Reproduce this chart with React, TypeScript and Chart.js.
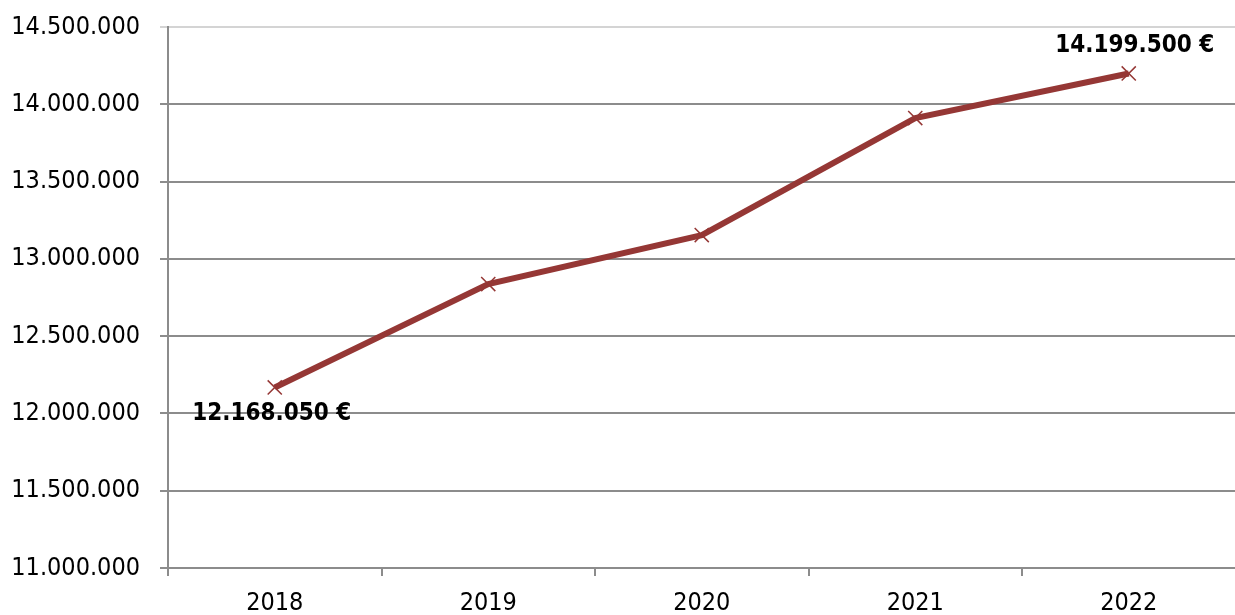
import React, { useEffect, useRef } from "react";
import { Chart, registerables } from "chart.js";

Chart.register(...registerables);

const years = ["2018", "2019", "2020", "2021", "2022"];
const totals = [12168050, 12837000, 13154000, 13911000, 14199500];
const labelledIndices = [0, 4];
const labelText = ["12.168.050 €", "", "", "", "14.199.500 €"];

const fmt = (v: number) =>
  Math.round(v)
    .toString()
    .replace(/\B(?=(\d{3})+(?!\d))/g, ".");

const FONT = "'DejaVu Sans Condensed', 'DejaVu Sans', sans-serif";

const valueLabels = {
  id: "valueLabels",
  afterDatasetsDraw(chart: any) {
    const ctx = chart.ctx;
    const meta = chart.getDatasetMeta(0);
    ctx.save();
    ctx.font = `bold 24px ${FONT}`;
    ctx.fillStyle = "#000";
    ctx.textAlign = "center";
    ctx.textBaseline = "middle";
    labelledIndices.forEach((i) => {
      const el = meta.data[i];
      if (!el) return;
      const below = i === 0;
      ctx.fillText(labelText[i], el.x + (below ? -3 : 6), el.y + (below ? 26 : -28));
    });
    ctx.restore();
  },
};

export default function App() {
  const ref = useRef<HTMLCanvasElement>(null);
  useEffect(() => {
    if (!ref.current) return;
    const chart = new Chart(ref.current, {
      type: "line",
      data: {
        labels: years,
        datasets: [
          {
            data: totals,
            borderColor: "#953735",
            borderWidth: 6,
            tension: 0,
            pointStyle: "crossRot",
            pointRadius: 10,
            pointBorderWidth: 1.5,
            pointBorderColor: "#953735",
            pointBackgroundColor: "#953735",
            clip: false as any,
          },
        ],
      },
      options: {
        animation: false,
        responsive: false,
        maintainAspectRatio: false,
        layout: { padding: { top: 27, right: 0, left: 0, bottom: 0 } },
        plugins: {
          legend: { display: false },
          tooltip: { enabled: false },
        },
        scales: {
          x: {
            offset: true,
            grid: {
              offset: true,
              drawOnChartArea: false,
              drawTicks: true,
              tickLength: 8,
              color: "#8c8c8c",
              lineWidth: 2,
            },
            border: { display: true, color: "#8c8c8c", width: 2 },
            ticks: {
              color: "#000",
              font: { family: FONT, size: 25 },
              padding: 12,
              maxRotation: 0,
            },
            afterFit(scale: any) {
              scale.height = 47;
              scale.paddingLeft = 0;
              scale.paddingRight = 0;
            },
          },
          y: {
            min: 11000000,
            max: 14500000,
            ticks: {
              stepSize: 500000,
              color: "#000",
              font: { family: FONT, size: 25 },
              padding: 20,
              callback: (v: any) => fmt(Number(v)),
            },
            grid: {
              color: (c: any) => (c.tick && c.tick.value === 14500000 ? "#d4d4d4" : "#8c8c8c"),
              lineWidth: 2,
              tickLength: 8,
              drawTicks: true,
            },
            border: { display: true, color: "#8c8c8c", width: 2 },
            afterFit(scale: any) {
              scale.width = 168;
              scale.paddingTop = 0;
              scale.paddingBottom = 0;
            },
          },
        },
      },
      plugins: [valueLabels],
    });
    return () => chart.destroy();
  }, []);
  return (
    <div
      style={{
        position: "fixed",
        left: 0,
        top: 0,
        width: 1235,
        height: 615,
        overflow: "hidden",
        background: "#fff",
      }}
    >
      <canvas ref={ref} width={1247} height={615} style={{ display: "block" }} />
    </div>
  );
}
